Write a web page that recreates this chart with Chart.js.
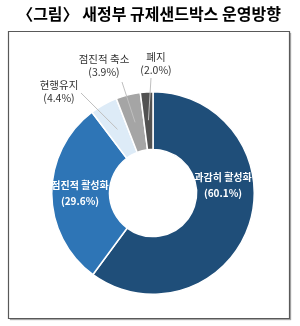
<!DOCTYPE html>
<html>
<head>
<meta charset="utf-8">
<script src="https://cdn.jsdelivr.net/npm/chart.js@4"></script>
<style>
  html, body { margin: 0; padding: 0; background: #fff; }
  #wrap { position: relative; width: 300px; height: 326px; }
</style>
</head>
<body>
<div id="wrap"><canvas id="sandboxChart"></canvas></div>
<script>
// Chart data
const titleText = '〈그림〉 새정부 규제샌드박스 운영방향';
const categories = ['과감히 활성화', '점진적 활성화', '현행유지', '점진적 축소', '폐지'];
const shares = [60.1, 29.6, 4.4, 3.9, 2.0];
const sliceColors = ['#1F4E79', '#2E75B6', '#DDEBF7', '#A5A5A5', '#525252'];

// where each label's text block sits (centre of the two lines)
const labelLayout = [
    { inside: true, x: 223, y: 185 },
    { inside: true, x: 80, y: 193 },
    { inside: false, x: 59, y: 92, lineFrom: [81, 93] },
    { inside: false, x: 104, y: 66, lineFrom: [122, 82] },
    { inside: false, x: 156, y: 64, lineFrom: [151, 78] }
];

const FONT = '"Noto Sans CJK KR", "Noto Sans", sans-serif';

const decorPlugin = {
    id: 'decor',
    beforeDraw(chart) {
        const c = chart.ctx;
        c.save();
        // title
        c.fillStyle = '#000';
        c.font = 'bold 16px ' + FONT;
        c.textAlign = 'center';
        c.textBaseline = 'middle';
        c.fillText(titleText, 149, 14, 272);
        // frame with slight shadow
        c.shadowColor = 'rgba(0,0,0,0.35)';
        c.shadowOffsetX = 1.5;
        c.shadowOffsetY = 1.5;
        c.shadowBlur = 1;
        c.strokeStyle = '#595959';
        c.lineWidth = 1.2;
        c.fillStyle = '#fff';
        c.beginPath();
        c.rect(8.5, 31.5, 281, 287);
        c.fill();
        c.shadowColor = 'transparent';
        c.stroke();
        c.restore();
    },
    afterDraw(chart) {
        const c = chart.ctx;
        const arcs = chart.getDatasetMeta(0).data;
        c.save();
        c.textAlign = 'center';
        c.textBaseline = 'middle';
        arcs.forEach(function(arc, i) {
            const p = arc.getProps(['x', 'y', 'startAngle', 'endAngle', 'outerRadius'], true);
            const mid = (p.startAngle + p.endAngle) / 2;
            const lay = labelLayout[i];
            const pct = '(' + shares[i].toFixed(1) + '%)';
            if (lay.inside) {
                c.fillStyle = '#fff';
                c.font = 'bold 10px ' + FONT;
                c.fillText(categories[i], lay.x, lay.y - 8, 60);
                c.fillText(pct, lay.x, lay.y + 8);
            } else {
                // leader line into the slice
                const r = p.outerRadius * 0.72;
                c.strokeStyle = '#BFBFBF';
                c.lineWidth = 1;
                c.beginPath();
                c.moveTo(lay.lineFrom[0], lay.lineFrom[1]);
                c.lineTo(p.x + Math.cos(mid) * r, p.y + Math.sin(mid) * r);
                c.stroke();
                c.fillStyle = '#333';
                c.font = '10.5px ' + FONT;
                c.fillText(categories[i], lay.x, lay.y - 6.5);
                c.fillText(pct, lay.x, lay.y + 6.5);
            }
        });
        c.restore();
    }
};

new Chart(document.getElementById('sandboxChart'), {
    type: 'doughnut',
    data: {
        labels: categories,
        datasets: [{
            data: shares,
            backgroundColor: sliceColors,
            borderColor: '#fff',
            borderWidth: 1.5
        }]
    },
    options: {
        responsive: true,
        maintainAspectRatio: false,
        animation: false,
        cutout: '43%',
        layout: {
            padding: { left: 51, right: 45, top: 91, bottom: 31 }
        },
        plugins: {
            legend: { display: false },
            tooltip: { enabled: false }
        }
    },
    plugins: [decorPlugin]
});
</script>
</body>
</html>
